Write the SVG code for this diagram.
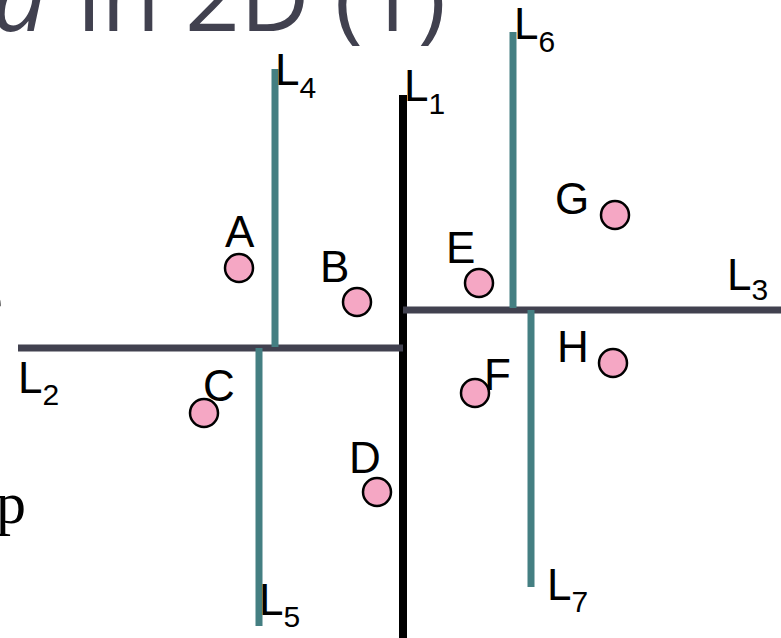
<svg xmlns="http://www.w3.org/2000/svg" width="781" height="638" viewBox="0 0 781 638">
<style>
.title{font-family:"Open Sans","Liberation Sans",sans-serif;font-size:96px;fill:#41414f}
.lbl{font-family:"Liberation Sans",Arial,sans-serif;font-size:44px;fill:#000}
.sub{font-size:30px}
.serif{font-family:"Liberation Serif","Times New Roman",serif;font-size:60px;fill:#000}
.teal{stroke:#447f82;stroke-width:7;fill:none}
.gray{stroke:#41414f;stroke-width:7;fill:none}
.blk{stroke:#000;stroke-width:8;fill:none}
.pt{fill:#f5a7c4;stroke:#000;stroke-width:2.5}
</style>
<rect width="781" height="638" fill="#fff"/>
<g id="title">
<text class="title" x="-8" y="31" font-style="italic">d</text>
<text class="title" x="77" y="31">in 2D (1)</text>
</g>
<g id="leftText">
<text class="serif" x="-24" y="320">e</text>
<text class="serif" x="-4" y="523">p</text>
</g>
<g id="connectors">
<line id="line-L1" class="blk" x1="403" y1="95" x2="403" y2="638"/>
<line id="line-L2" class="gray" x1="18" y1="348" x2="403" y2="348"/>
<line id="line-L3" class="gray" x1="403" y1="310" x2="781" y2="310"/>
<line id="line-L4" class="teal" x1="275" y1="69" x2="275" y2="347"/>
<line id="line-L5" class="teal" x1="259" y1="348" x2="259" y2="626"/>
<line id="line-L6" class="teal" x1="513" y1="32" x2="513" y2="308"/>
<line id="line-L7" class="teal" x1="531" y1="310" x2="531" y2="587"/>
</g>
<g id="L1"><text class="lbl" x="404" y="101">L<tspan class="sub" dy="13">1</tspan></text></g>
<g id="L2"><text class="lbl" x="18" y="393">L<tspan class="sub" dy="12">2</tspan></text></g>
<g id="L3"><text class="lbl" x="727" y="290">L<tspan class="sub" dy="10">3</tspan></text></g>
<g id="L4"><text class="lbl" x="275" y="85">L<tspan class="sub" dy="13">4</tspan></text></g>
<g id="L5"><text class="lbl" x="259" y="615">L<tspan class="sub" dy="12">5</tspan></text></g>
<g id="L6"><text class="lbl" x="514" y="39">L<tspan class="sub" dy="13">6</tspan></text></g>
<g id="L7"><text class="lbl" x="547" y="600">L<tspan class="sub" dy="12">7</tspan></text></g>
<g id="A"><circle class="pt" cx="239" cy="268" r="14"/><text class="lbl" x="225" y="247">A</text></g>
<g id="B"><circle class="pt" cx="357" cy="302" r="14"/><text class="lbl" x="320" y="282">B</text></g>
<g id="C"><circle class="pt" cx="204" cy="413" r="14"/><text class="lbl" x="203" y="401">C</text></g>
<g id="D"><circle class="pt" cx="377" cy="492" r="14"/><text class="lbl" x="349" y="473">D</text></g>
<g id="E"><circle class="pt" cx="479" cy="283" r="14"/><text class="lbl" x="446" y="263">E</text></g>
<g id="F"><circle class="pt" cx="475" cy="393" r="14"/><text class="lbl" x="484" y="390">F</text></g>
<g id="G"><circle class="pt" cx="615" cy="215" r="14"/><text class="lbl" x="555" y="214">G</text></g>
<g id="H"><circle class="pt" cx="613" cy="363" r="14"/><text class="lbl" x="557" y="362">H</text></g>
</svg>
